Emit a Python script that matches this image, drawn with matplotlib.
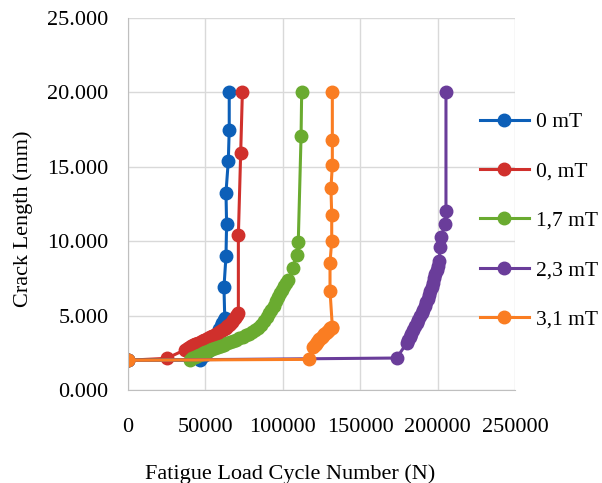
import matplotlib
matplotlib.use("Agg")
import matplotlib.pyplot as plt

plt.rcParams['font.family'] = ['Liberation Serif', 'DejaVu Serif']

labels = ['0 mT', '0, mT', '1,7 mT', '2,3 mT', '3,1 mT']
colors = ['#0c5fb8', '#d0302c', '#6aab30', '#6a3d9a', '#fa7d22']

# 0 mT
n_0 = [0, 46500, 48000, 49500, 51000, 52500, 54000, 55500, 57000, 58000,
       59000, 60000, 61000, 62000, 62500,
       62000, 63300, 63700, 63300, 64800, 65400, 65400]
a_0 = [2.0, 2.0, 2.2, 2.38, 2.58, 2.78, 3.0, 3.3, 3.6, 3.85,
       4.1, 4.3, 4.5, 4.7, 4.85,
       6.9, 9.0, 11.16, 13.26, 15.4, 17.5, 20.05]

# 0, mT
n_1 = [0, 25000, 36800, 38000, 39000, 40000, 41000, 42000, 43000, 44000,
       45000, 46000, 47000, 48000, 49000, 50000, 51000, 52000, 53000, 54000,
       55000, 56000, 57000, 58000, 59000, 60000, 61000, 62000, 63000, 64000,
       65000, 66000, 67000, 68000, 69000, 70000, 70700, 71300,
       71300, 72800, 73900]
a_1 = [2.0, 2.13, 2.7, 2.78, 2.85, 2.92, 2.98, 3.03, 3.07, 3.1,
       3.15, 3.19, 3.23, 3.28, 3.33, 3.38, 3.43, 3.5, 3.55, 3.6,
       3.65, 3.72, 3.79, 3.86, 3.93, 4.0, 4.06, 4.13, 4.2, 4.28,
       4.36, 4.45, 4.57, 4.7, 4.82, 4.95, 5.07, 5.2,
       10.4, 15.95, 20.05]

# 1,7 mT
n_2 = [0, 40000, 41500, 43000, 44500, 46000, 47500, 48700, 50000, 51500,
       53000, 54500, 56000, 58000, 60000, 62000, 64000, 66000, 68000, 70000,
       72000, 74000, 76000, 78000, 80000, 82000, 84000, 86000, 88000, 89600,
       91000, 92500, 94000, 95500, 97000, 98200, 99500, 101000, 102300,
       103600, 106400, 109000, 110000, 111800, 112200]
a_2 = [2.0, 2.05, 2.12, 2.2, 2.28, 2.36, 2.45, 2.52, 2.58, 2.64,
       2.7, 2.76, 2.82, 2.9, 2.98, 3.05, 3.13, 3.21, 3.3, 3.38,
       3.48, 3.58, 3.68, 3.78, 3.9, 4.05, 4.2, 4.4, 4.65, 4.9,
       5.15, 5.4, 5.65, 5.95, 6.25, 6.5, 6.75, 7.0, 7.2,
       7.4, 8.2, 9.1, 9.97, 17.07, 20.05]

# 2,3 mT
n_3 = [0, 173500, 180000, 181000, 182000, 183000, 184300, 185400, 186500,
       187500, 188500, 189600, 190800, 191600, 192500, 193500, 194500,
       195400, 196200, 197000, 197800, 198600, 199400, 200200, 200900,
       201800, 202300, 204800, 205400, 205400]
a_3 = [2.0, 2.15, 3.14, 3.35, 3.55, 3.78, 4.03, 4.27, 4.5,
       4.72, 4.95, 5.15, 5.38, 5.64, 5.9, 6.15, 6.4,
       6.67, 6.94, 7.2, 7.5, 7.78, 8.06, 8.35, 8.7,
       9.6, 10.3, 11.16, 12.0, 20.05]

# 3,1 mT
n_4 = [0, 117200, 119700, 120500, 121300, 122000, 122800, 123600, 124400,
       125200, 126000, 126800, 127600, 128400, 129200, 130000, 130800,
       131500, 132000,
       130500, 130500, 131600, 131600, 131100, 132000, 132000, 132000]
a_4 = [2.0, 2.06, 2.9, 3.0, 3.1, 3.2, 3.3, 3.4, 3.5,
       3.58, 3.66, 3.74, 3.82, 3.9, 3.98, 4.06, 4.14,
       4.2, 4.25,
       6.67, 8.55, 10.03, 11.76, 13.55, 15.12, 16.8, 20.0]

xs = [n_0, n_1, n_2, n_3, n_4]
ys = [a_0, a_1, a_2, a_3, a_4]

fig = plt.figure(figsize=(6.02, 4.83), dpi=100)
ax = fig.add_axes([0.2126, 0.1925, 0.6429, 0.7702])

handles = []
for x, y, c, lab in zip(xs, ys, colors, labels):
    h, = ax.plot(x, y, color=c, lw=2.2, marker='o', markersize=9, label=lab)
    handles.append(h)

ax.set_xlim(0, 250000)
ax.set_ylim(0, 25)
ax.set_xticks([0, 50000, 100000, 150000, 200000, 250000])
ax.set_yticks([0, 5, 10, 15, 20, 25])
ax.set_yticklabels(['%.3f' % v for v in [0, 5, 10, 15, 20, 25]])
ax.tick_params(length=0, labelsize=16)
ax.tick_params(axis='y', pad=14)
ax.tick_params(axis='x', pad=20)
ax.grid(True, color='#d9d9d9', lw=1)
ax.set_axisbelow(True)
for s in ['top', 'right']:
    ax.spines[s].set_visible(False)
for s in ['left', 'bottom']:
    ax.spines[s].set_color('#bfbfbf')

ax.set_xlabel('Fatigue Load Cycle Number (N)', fontsize=16)
ax.xaxis.set_label_coords(0.42, -0.2)
ax.set_ylabel('Crack Length (mm)', fontsize=16)
ax.yaxis.set_label_coords(-0.245, 0.46)

fig.legend(handles=handles, loc='upper left', bbox_to_anchor=(0.779, 0.79),
           frameon=False, fontsize=15.5, handlelength=2.3, labelspacing=1.36,
           handletextpad=0.3, borderpad=0)

fig.savefig('out.png', dpi=100)
